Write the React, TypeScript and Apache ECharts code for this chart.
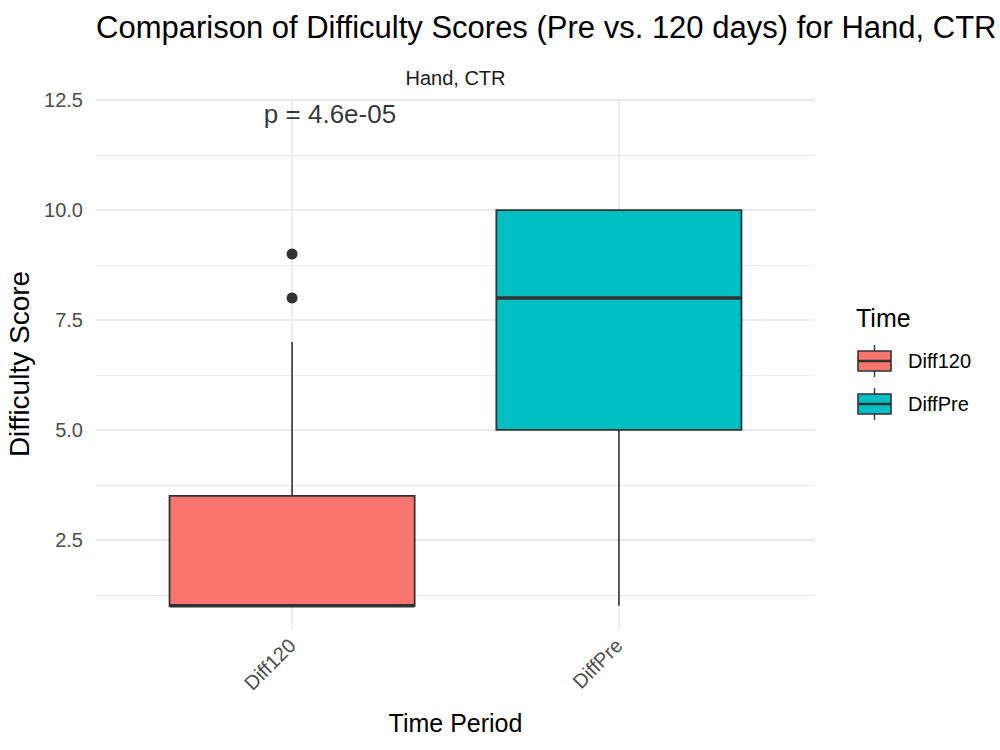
import React, { useEffect, useRef } from "react";
import * as echarts from "echarts";

// ---- data ----
const categories = ["Diff120", "DiffPre"];
const mins = [1, 1];
const q1s = [1, 5];
const medians = [1, 8];
const q3s = [3.5, 10];
const maxs = [7, 10];
const outlierCats = ["Diff120", "Diff120"];
const outlierValues = [8, 9];
const colors = ["#F8766D", "#00BFC4"];
const yMajorTicks = [2.5, 5, 7.5, 10, 12.5];
const yMinorTicks = [1.25, 3.75, 6.25, 8.75, 11.25];
const pLabel = "p = 4.6e-05";
const titleText = "Comparison of Difficulty Scores (Pre vs. 120 days) for Hand, CTR";
const stripText = "Hand, CTR";
const legendTitle = "Time";

const FONT = "'Liberation Sans', Arial, Helvetica, sans-serif";
const BOX_WIDTH = 0.75;
const GRID = { left: 96, right: 185, top: 98, bottom: 120, outerBoundsMode: "none" };

export default function App() {
  const ref = useRef<HTMLDivElement>(null);
  useEffect(() => {
    document.body.style.margin = "0";
    if (!ref.current) return;
    const chart = echarts.init(ref.current, null, { renderer: "svg" });

    const boxData = categories.map((c, i) => [i + 1, mins[i], q1s[i], medians[i], q3s[i], maxs[i]]);
    const outlierData = outlierCats.map((c, i) => [categories.indexOf(c) + 1, outlierValues[i]]);

    const gridLineStyle = { color: "#ebebeb", type: "solid" as const };

    const renderBox = (params: any, api: any) => {
      const x = api.value(0);
      const lo = api.value(1);
      const q1 = api.value(2);
      const med = api.value(3);
      const q3 = api.value(4);
      const hi = api.value(5);
      const halfW = api.size([BOX_WIDTH, 0])[0] / 2;
      const pHi = api.coord([x, hi]);
      const pQ3 = api.coord([x, q3]);
      const pMed = api.coord([x, med]);
      const pQ1 = api.coord([x, q1]);
      const pLo = api.coord([x, lo]);
      const cx = pQ3[0];
      const stroke = "#333333";
      return {
        type: "group",
        children: [
          { type: "line", shape: { x1: cx, y1: pHi[1], x2: cx, y2: pQ3[1] }, style: { stroke, lineWidth: 1.6 } },
          { type: "line", shape: { x1: cx, y1: pQ1[1], x2: cx, y2: pLo[1] }, style: { stroke, lineWidth: 1.6 } },
          {
            type: "rect",
            shape: { x: cx - halfW, y: pQ3[1], width: halfW * 2, height: pQ1[1] - pQ3[1] },
            style: { fill: colors[params.dataIndex], stroke, lineWidth: 1.8 },
          },
          { type: "line", shape: { x1: cx - halfW, y1: pMed[1], x2: cx + halfW, y2: pMed[1] }, style: { stroke, lineWidth: 3.6 } },
        ],
      };
    };

    // legend graphics
    const legendItems: any[] = [];
    categories.forEach((c, i) => {
      const top = 351 + i * 43;
      const stroke = "#333333";
      legendItems.push(
        { type: "line", shape: { x1: 874.5, y1: top - 6, x2: 874.5, y2: top }, style: { stroke, lineWidth: 1.4 } },
        { type: "line", shape: { x1: 874.5, y1: top + 20, x2: 874.5, y2: top + 26 }, style: { stroke, lineWidth: 1.4 } },
        { type: "rect", shape: { x: 858, y: top, width: 33, height: 20 }, style: { fill: colors[i], stroke, lineWidth: 1.6 } },
        { type: "line", shape: { x1: 858, y1: top + 10, x2: 891, y2: top + 10 }, style: { stroke, lineWidth: 2.4 } },
        {
          type: "text",
          x: 908,
          y: top + 10,
          style: { text: c, fontSize: 20, fontFamily: FONT, fill: "#000000", textVerticalAlign: "middle", textAlign: "left" },
        }
      );
    });

    const option: any = {
      animation: false,
      backgroundColor: "#ffffff",
      title: {
        text: titleText,
        left: 91,
        top: 7,
        textStyle: { fontSize: 31, fontWeight: "normal", color: "#000000", fontFamily: FONT },
      },
      graphic: [
        {
          type: "text",
          x: 455.5,
          y: 78,
          style: { text: stripText, fontSize: 20, fontFamily: FONT, fill: "#1a1a1a", textAlign: "center", textVerticalAlign: "middle" },
        },
        {
          type: "text",
          x: 856,
          y: 318,
          style: { text: legendTitle, fontSize: 25, fontFamily: FONT, fill: "#000000", textAlign: "left", textVerticalAlign: "middle" },
        },
        ...legendItems,
      ],
      grid: GRID,
      xAxis: {
        type: "value",
        min: 0.4,
        max: 2.6,
        name: "Time Period",
        nameLocation: "middle",
        nameGap: 80,
        nameTextStyle: { fontSize: 25, color: "#000000", fontFamily: FONT },
        axisLine: { show: false },
        axisTick: { show: false },
        splitLine: { show: false },
        axisLabel: {
          customValues: [1, 2],
          formatter: (v: number) => categories[Math.round(v) - 1] ?? "",
          rotate: 45,
          fontSize: 20,
          color: "#4d4d4d",
          fontFamily: FONT,
          margin: 12,
        },
      },
      yAxis: {
        type: "value",
        min: 0.45,
        max: 12.55,
        name: "Difficulty Score",
        nameLocation: "middle",
        nameGap: 57,
        nameTextStyle: { fontSize: 28, color: "#000000", fontFamily: FONT },
        axisLine: { show: false },
        axisTick: { show: false },
        splitLine: { show: false },
        axisLabel: {
          customValues: yMajorTicks,
          formatter: (v: number) => v.toFixed(1),
          fontSize: 20,
          color: "#4d4d4d",
          fontFamily: FONT,
          margin: 13,
        },
      },
      series: [
        {
          type: "line",
          data: [],
          silent: true,
          z: 0,
          zlevel: 0,
          markLine: {
            silent: true,
            z: 0,
            symbol: "none",
            label: { show: false },
            data: [
              ...yMinorTicks.map((v) => ({ yAxis: v, lineStyle: { ...gridLineStyle, width: 1.2 } })),
              ...yMajorTicks.map((v) => ({ yAxis: v, lineStyle: { ...gridLineStyle, width: 1.8 } })),
              ...categories.map((c, i) => ({ xAxis: i + 1, lineStyle: { ...gridLineStyle, width: 1.8 } })),
            ],
          },
        },
        {
          type: "custom",
          z: 3,
          renderItem: renderBox,
          encode: { x: 0, y: [1, 2, 3, 4, 5] },
          data: boxData,
        },
        {
          type: "scatter",
          z: 4,
          symbolSize: 11,
          itemStyle: { color: "#333333", opacity: 1 },
          data: outlierData,
        },
        {
          type: "scatter",
          z: 5,
          symbolSize: 0,
          data: [[1.116, 12.18]],
          label: {
            show: true,
            position: "inside",
            formatter: () => pLabel,
            fontSize: 26,
            color: "#000000",
            fontFamily: FONT,
          },
        },
      ],
    };
    chart.setOption(option);
    return () => chart.dispose();
  }, []);
  return <div ref={ref} style={{ width: 1000, height: 750 }} />;
}
